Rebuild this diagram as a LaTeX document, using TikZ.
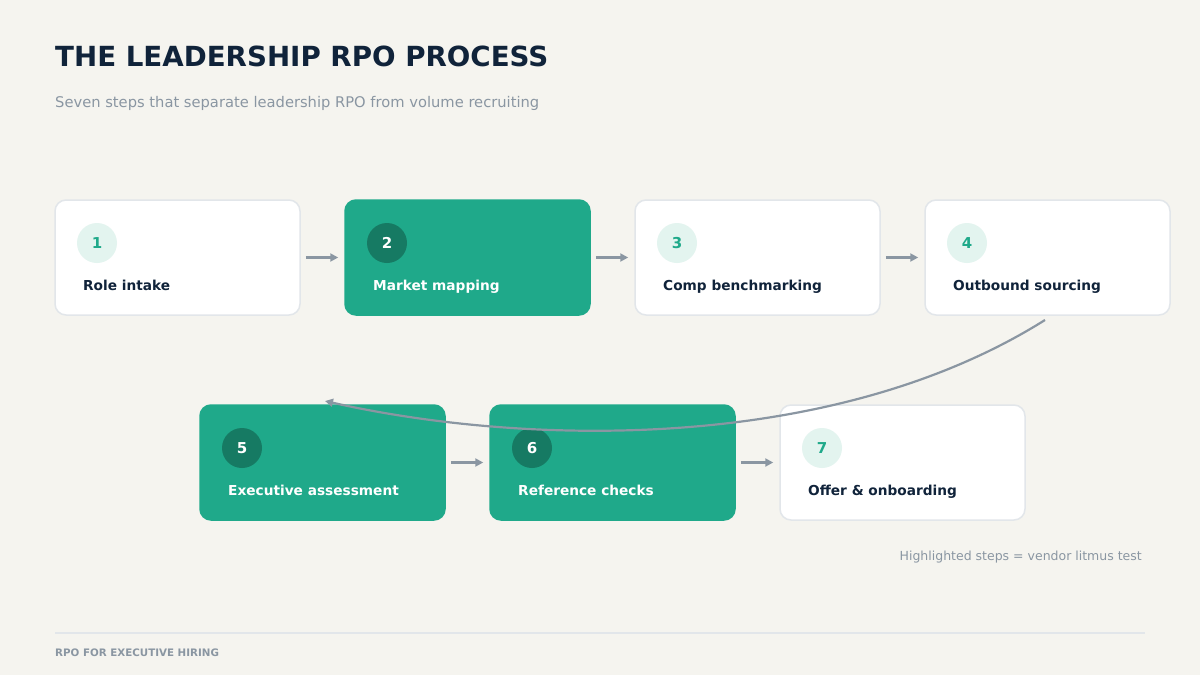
\documentclass[tikz,border=0pt]{standalone}
\usepackage{fontspec}
\setmainfont{DejaVu Sans}
\usetikzlibrary{arrows.meta}
\definecolor{bg}{HTML}{F5F4EF}
\definecolor{teal}{HTML}{1FA98A}
\definecolor{darkteal}{HTML}{167A63}
\definecolor{lightteal}{HTML}{E3F4EF}
\definecolor{ink}{HTML}{10233A}
\definecolor{grayc}{HTML}{8A96A2}
\definecolor{edgec}{HTML}{E2E6EA}
\newcommand{\fsz}[1]{\fontsize{#1}{#1}\selectfont}
\tikzset{
  box/.style={draw=edgec, line width=1.5pt, fill=white, rounded corners=11pt, minimum width=245pt, minimum height=115pt, inner sep=0pt},
  hbox/.style={box, draw=teal, fill=teal},
  numc/.style={circle, fill=lightteal, minimum size=40pt, inner sep=0pt, text=teal, font=\bfseries\fsz{15}},
  hnumc/.style={numc, fill=darkteal, text=white},
  lab/.style={anchor=base west, inner sep=0pt, text=ink, font=\bfseries\fsz{13.7}},
  hlab/.style={lab, text=white},
  flow/.style={draw=grayc, line width=2.2pt, -{Triangle[length=8pt,width=8pt]}},
}
\begin{document}
\begin{tikzpicture}[x=1pt,y=-1pt]
\fill[bg] (0,0) rectangle (1200,675);
\useasboundingbox (0,0) rectangle (1200,675);
\node[anchor=base west, inner sep=0pt, text=ink, font=\bfseries\fsz{27.7}] (title) at (55,66) {THE LEADERSHIP RPO PROCESS};
\node[anchor=base west, inner sep=0pt, text=grayc, font=\fsz{14.7}] (sub) at (55,107) {Seven steps that separate leadership RPO from volume recruiting};
% row 1
\node[box]  (b1) at (177.5,257.5) {};
\node[hbox] (b2) at (467.5,257.5) {};
\node[box]  (b3) at (757.5,257.5) {};
\node[box]  (b4) at (1047.5,257.5) {};
% row 2
\node[hbox] (b5) at (322.5,462.5) {};
\node[hbox] (b6) at (612.5,462.5) {};
\node[box]  (b7) at (902.5,462.5) {};
% numbers and labels
\node[numc]  (n1) at (97,243) {1};
\node[lab]   (l1) at (83,290) {Role intake};
\node[hnumc] (n2) at (387,243) {2};
\node[hlab]  (l2) at (373,290) {Market mapping};
\node[numc]  (n3) at (677,243) {3};
\node[lab]   (l3) at (663,290) {Comp benchmarking};
\node[numc]  (n4) at (967,243) {4};
\node[lab]   (l4) at (953,290) {Outbound sourcing};
\node[hnumc] (n5) at (242,448) {5};
\node[hlab]  (l5) at (228,495) {Executive assessment};
\node[hnumc] (n6) at (532,448) {6};
\node[hlab]  (l6) at (518,495) {Reference checks};
\node[numc]  (n7) at (822,448) {7};
\node[lab]   (l7) at (808,495) {Offer \& onboarding};
% flow
\draw[flow, shorten <=5pt, shorten >=6pt] (b1.east) -- (b2.west);
\draw[flow, shorten <=5pt, shorten >=6pt] (b2.east) -- (b3.west);
\draw[flow, shorten <=5pt, shorten >=6pt] (b3.east) -- (b4.west);
\draw[flow, shorten <=5pt, shorten >=6pt] (b5.east) -- (b6.west);
\draw[flow, shorten <=5pt, shorten >=6pt] (b6.east) -- (b7.west);
\coordinate (cs) at (1045,320);
\coordinate (ce) at (325,401);
\draw[flow] (cs) .. controls (830,455) and (520,445) .. (ce);
\node[anchor=base east, inner sep=0pt, text=grayc, font=\fsz{12.5}] (note) at (1142,560) {Highlighted steps = vendor litmus test};
\coordinate (fl) at (55,633);
\coordinate (fr) at (1145,633);
\draw[edgec, line width=1.5pt] (fl) -- (fr);
\node[anchor=base west, inner sep=0pt, text=grayc, font=\bfseries\fsz{10.3}] (foot) at (55,656) {RPO FOR EXECUTIVE HIRING};
\end{tikzpicture}
\end{document}
